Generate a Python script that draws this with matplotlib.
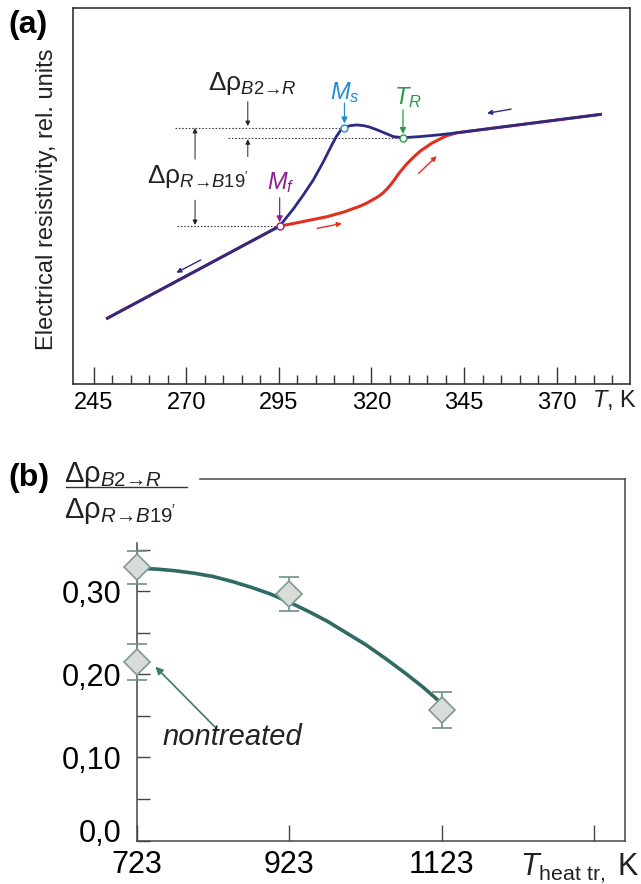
import matplotlib
matplotlib.use("Agg")
import matplotlib.pyplot as plt
from matplotlib.lines import Line2D
from matplotlib.transforms import ScaledTranslation

plt.rcParams['font.family'] = ['Liberation Sans', 'DejaVu Sans']
plt.rcParams['mathtext.fontset'] = 'custom'
plt.rcParams['mathtext.rm'] = 'Liberation Sans'
plt.rcParams['mathtext.it'] = 'Liberation Sans:italic'
plt.rcParams['mathtext.bf'] = 'Liberation Sans:bold'

# (a) resistivity curves, T in K, rho in rel. units
cool_T = [248.7, 295.2, 299.0, 301.6, 304.3, 307.0, 309.3, 310.5, 311.6, 312.7,
          314.2, 316.05, 318.0, 319.6, 321.5, 323.2, 325.9, 328.5, 333.1, 337.6,
          342.1, 381.8]
cool_rho = [1.75, 4.20, 4.67, 5.03, 5.43, 5.91, 6.36, 6.58, 6.74, 6.82,
            6.87, 6.89, 6.87, 6.83, 6.76, 6.69, 6.58, 6.55, 6.58, 6.62,
            6.67, 7.17]
heat_T = [248.7, 295.2, 299.0, 303.5, 308.0, 312.4, 316.9, 318.7, 320.5, 321.9,
          323.2, 324.4, 325.5, 326.4, 327.3, 328.4, 329.5, 330.8, 332.2, 333.5,
          334.9, 336.2, 337.6, 338.9, 340.3, 341.6, 343.0, 381.8]
heat_rho = [1.75, 4.20, 4.27, 4.36, 4.45, 4.57, 4.73, 4.81, 4.91, 4.99,
            5.09, 5.21, 5.34, 5.46, 5.59, 5.72, 5.85, 5.98, 6.11, 6.22,
            6.31, 6.40, 6.47, 6.54, 6.60, 6.64, 6.68, 7.17]
# characteristic points Mf, Ms, TR
key_T = [295.2, 312.7, 328.5]
key_rho = [4.20, 6.82, 6.55]
key_lab = [r'$M_f$', r'$M_s$', r'$T_R$']
key_col = ['#8c1f8c', '#1e8bd0', '#279a45']

# (b) ratio vs heat treatment temperature
treat_T = [723, 923, 1123]
ratio = [0.329, 0.297, 0.157]
ratio_err = [0.020, 0.021, 0.0215]
nontr_T = [723]
nontr_ratio = [0.215]
nontr_err = [0.022]
fit_T = [723, 748, 773, 798, 823, 848, 873, 898, 923, 948, 973, 998,
         1023, 1048, 1073, 1098, 1118]
fit_ratio = [0.328, 0.327, 0.325, 0.322, 0.318, 0.312, 0.305, 0.297, 0.287,
             0.276, 0.264, 0.250, 0.236, 0.220, 0.203, 0.185, 0.169]

BLUE = '#2b2b86'
RED = '#e2301f'
TEAL = '#2f6b63'
W, H = 641, 884

fig = plt.figure(figsize=(W / 100, H / 100), dpi=100)

# ---------------- (a)
ax1 = fig.add_axes([73 / W, 1 - 384 / H, 557 / W, 376 / H])
ax1.set_xlim(239.4, 389.8)
ax1.set_ylim(0, 10)
for s in ax1.spines.values():
    s.set_color('#333333')
    s.set_linewidth(1.2)

ax1.plot(heat_T, heat_rho, color=RED, lw=2.2, zorder=3)
ax1.plot(cool_T, cool_rho, color=BLUE, lw=2.0, zorder=4)

# dotted level lines
ax1.plot([267.0, key_T[1]], [key_rho[1]] * 2, ls=(0, (1.5, 1.5)), color='#444444', lw=0.8)
ax1.plot([281.3, key_T[2]], [key_rho[2]] * 2, ls=(0, (1.5, 1.5)), color='#444444', lw=0.8)
ax1.plot([267.6, key_T[0]], [key_rho[0]] * 2, ls=(0, (1.5, 1.5)), color='#444444', lw=0.8)

for t, r, c in zip(key_T, key_rho, key_col):
    ax1.plot(t, r, 'o', ms=5, mfc='white', mec=c, mew=1.0, zorder=5)

def arrow(ax, tail, head, color, lw=0.9, ms=9):
    ax.annotate('', xy=head, xytext=tail,
                arrowprops=dict(arrowstyle='-|>', color=color, lw=lw,
                                mutation_scale=ms, shrinkA=0, shrinkB=0))

# labels of characteristic points
ax1.text(295.4, 5.37, key_lab[0], color=key_col[0], fontsize=17, ha='center', va='center')
ax1.text(312.9, 7.74, key_lab[1], color=key_col[1], fontsize=17, ha='center', va='center')
ax1.text(329.9, 7.61, key_lab[2], color=key_col[2], fontsize=17, ha='center', va='center')
arrow(ax1, (295.2, 4.95), (295.2, 4.30), key_col[0])
arrow(ax1, (312.7, 7.47), (312.7, 6.93), key_col[1])
arrow(ax1, (328.5, 7.29), (328.5, 6.65), key_col[2])

# delta rho labels
ax1.text(287.8, 7.98, r'$\mathrm{Δρ}_{\mathit{B2→R}}$', fontsize=19, ha='center', va='center', color='#222222')
ax1.text(273.2, 5.51, r"$\mathrm{Δρ}_{\mathit{R→B19'}}$", fontsize=19, ha='center', va='center', color='#222222')
arrow(ax1, (286.6, 7.51), (286.6, 6.86), '#222222', lw=0.7, ms=7)
arrow(ax1, (286.6, 6.05), (286.6, 6.51), '#222222', lw=0.7, ms=7)
arrow(ax1, (272.35, 5.98), (272.35, 6.81), '#222222', lw=0.7, ms=7)
arrow(ax1, (272.35, 4.89), (272.35, 4.23), '#222222', lw=0.7, ms=7)

# direction arrows
arrow(ax1, (357.7, 7.31), (351.2, 7.20), BLUE, lw=1.0, ms=7)
arrow(ax1, (273.9, 3.30), (267.3, 2.96), BLUE, lw=1.0, ms=7)
arrow(ax1, (305.3, 4.14), (312.0, 4.27), RED, lw=1.0, ms=7)
arrow(ax1, (332.7, 5.60), (337.6, 6.06), RED, lw=1.0, ms=7)

ax1.set_xticks(list(range(245, 371, 25)))
ax1.set_xticks([t for t in range(250, 386, 5) if (t - 245) % 25], minor=True)
ax1.set_yticks([])
ax1.tick_params(axis='x', which='major', direction='in', length=12, width=1.0,
                labelsize=17, pad=5.5, color='#333333')
ax1.tick_params(axis='x', which='minor', direction='in', length=6.5, width=1.0, color='#333333')

fig.text(47 / W, 1 - 199 / H, 'Electrical resistivity, rel. units', rotation=90,
         fontsize=17, ha='center', va='center', color='#222222')
fig.text(592 / W, 1 - 400 / H, r'$T$, K', fontsize=17, ha='left', va='center', color='#222222')
fig.text(8 / W, 1 - 25 / H, '(a)', fontsize=23, fontweight='bold', ha='left', va='center')

# ---------------- (b)
ax2 = fig.add_axes([137 / W, 1 - 840.5 / H, 488 / W, 361.5 / H])
ax2.set_xlim(723, 1363.4)
ax2.set_ylim(0, 0.4355)
for s in ax2.spines.values():
    s.set_color('#444444')
    s.set_linewidth(1.1)
ax2.spines['left'].set_bounds(0, 0.358)
ax2.spines['top'].set_bounds(805.7, 1363.4)

ax2.plot(fit_T, fit_ratio, color=TEAL, lw=2.6, zorder=2, solid_capstyle='butt',
         solid_joinstyle='round')

for xs, ys, es in [(treat_T, ratio, ratio_err), (nontr_T, nontr_ratio, nontr_err)]:
    cont = ax2.errorbar(xs, ys, yerr=es, fmt='D', ms=13.5, mfc='#d9dcd9', mec='#7d9a92',
                        mew=1.2, ecolor='#6e9088', elinewidth=1.2, capsize=7,
                        capthick=1.2, zorder=3)
    for art in cont.get_children():
        art.set_clip_on(False)

ax2.annotate('', xy=(747.1, 0.2094), xytext=(825.0, 0.137),
             arrowprops=dict(arrowstyle='-|>', color='#3f7a70', lw=1.2,
                             mutation_scale=11, shrinkA=0, shrinkB=0))
ax2.text(847.7, 0.1247, 'nontreated', fontsize=21, style='italic', ha='center',
         va='center', color='#222222')

ax2.set_xticks([723, 923, 1123, 1323])
ax2.set_xticklabels(['723', '923', '1123', ''])
ax2.set_yticks([0, 0.05, 0.10, 0.15, 0.20, 0.25, 0.30, 0.35])
ax2.set_yticklabels(['0,0', '', '0,10', '', '0,20', '', '0,30', ''])
ax2.tick_params(axis='x', direction='in', length=11.5, width=1.0, labelsize=22,
                pad=6.5, color='#444444')
ax2.tick_params(axis='y', direction='in', length=9, width=1.0, labelsize=22,
                pad=11, color='#444444')
lbl0 = ax2.yaxis.get_major_ticks()[0].label1
lbl0.set_transform(lbl0.get_transform() + ScaledTranslation(0, 7 / 72, fig.dpi_scale_trans))

fig.text(520 / W, 1 - 875.5 / H, r'$T_{\mathrm{heat\ tr,}}$ K', fontsize=22,
         ha='left', va='baseline', color='#222222')

# fraction label
fig.text(64 / W, 1 - 481.7 / H, r'$\mathrm{Δρ}_{\mathit{B2→R}}$', fontsize=21,
         ha='left', va='baseline', color='#222222')
fig.add_artist(Line2D([66 / W, 187 / W], [1 - 486.5 / H] * 2, transform=fig.transFigure,
                      color='#333333', lw=1.0))
fig.text(64 / W, 1 - 518 / H, r"$\mathrm{Δρ}_{\mathit{R→B19'}}$", fontsize=21,
         ha='left', va='baseline', color='#222222')
fig.text(8 / W, 1 - 478 / H, '(b)', fontsize=23, fontweight='bold', ha='left', va='center')

fig.savefig('out.png', dpi=100, facecolor='white')
